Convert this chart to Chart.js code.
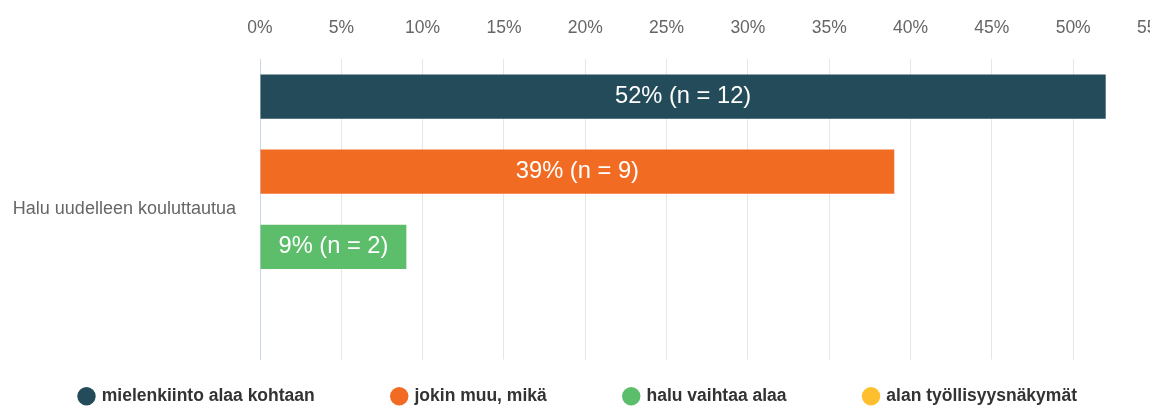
<!DOCTYPE html>
<html>
<head>
<meta charset="utf-8">
<script src="https://cdn.jsdelivr.net/npm/chart.js@4/dist/chart.umd.min.js"></script>
<style>
  body { margin: 0; background: #fff; }
  #marco { width: 1150px; height: 407px; overflow: hidden; }
  #lienzo { position: relative; width: 1192px; height: 407px; }
</style>
</head>
<body>
<div id="marco"><div id="lienzo"><canvas id="grafica"></canvas></div></div>
<script>
// Datos
const categorias = ['Halu uudelleen kouluttautua'];
const series = ['mielenkiinto alaa kohtaan', 'jokin muu, mikä', 'halu vaihtaa alaa', 'alan työllisyysnäkymät'];
const porcentajes = [52, 39, 9, 0];
const cantidades = [12, 9, 2, 0];
const colores = ['#234b5a', '#f26b23', '#5cbd6b', '#fdbf2e'];

Chart.defaults.font.family = "'Liberation Sans', Arial, sans-serif";

// Plugin simple para escribir las etiquetas dentro de las barras
const etiquetas = {
  id: 'etiquetas',
  afterDatasetsDraw: (chart) => {
    const ctx = chart.ctx;
    ctx.save();
    ctx.font = "23.7px 'Liberation Sans', Arial, sans-serif";
    ctx.fillStyle = '#ffffff';
    ctx.textAlign = 'center';
    ctx.textBaseline = 'middle';
    chart.data.datasets.forEach((ds, i) => {
      chart.getDatasetMeta(i).data.forEach((bar, j) => {
        const valor = ds.data[j];
        if (!valor) return;
        const texto = Math.round(valor) + '% (n = ' + cantidades[i] + ')';
        ctx.fillText(texto, (bar.x + bar.base) / 2, bar.y);
      });
    });
    ctx.restore();
  }
};

const datasets = series.map((nombre, i) => ({
  label: nombre,
  data: [porcentajes[i]],
  backgroundColor: colores[i],
  borderWidth: 0,
  barPercentage: 0.59,
  categoryPercentage: 1
}));

new Chart(document.getElementById('grafica'), {
  type: 'bar',
  data: { labels: categorias, datasets: datasets },
  options: {
    indexAxis: 'y',
    responsive: true,
    maintainAspectRatio: false,
    animation: false,
    layout: { padding: { left: 2, top: 0, bottom: -8 } },
    plugins: {
      tooltip: { enabled: false },
      legend: {
        position: 'bottom',
        align: 'start',
        // titulo vacio con relleno negativo para separar el espacio vertical del horizontal
        title: { display: true, text: '', font: { size: 12 }, padding: { top: 0, bottom: -64.4 } },
        labels: {
          usePointStyle: true,
          pointStyle: 'circle',
          boxWidth: 13,
          boxHeight: 13,
          padding: 78,
          color: '#333333',
          font: { size: 17.5, weight: 'bold' }
        }
      }
    },
    scales: {
      x: {
        position: 'top',
        min: 0,
        max: 55,
        afterFit: (s) => { s.height = 59; },
        border: { display: false },
        grid: {
          drawTicks: false,
          color: (c) => c.tick && c.tick.value === 0 ? '#ccd6eb' : '#e6e6e6'
        },
        ticks: {
          stepSize: 5,
          padding: 20,
          color: '#666666',
          font: { size: 17.5 },
          maxRotation: 0,
          callback: (v) => v + '%'
        }
      },
      y: {
        afterFit: (s) => { s.width = 258; },
        border: { display: true, color: '#ccd6eb' },
        grid: { display: false, drawTicks: false },
        ticks: {
          padding: 24,
          color: '#666666',
          font: { size: 18 }
        }
      }
    }
  },
  plugins: [etiquetas]
});
</script>
</body>
</html>
